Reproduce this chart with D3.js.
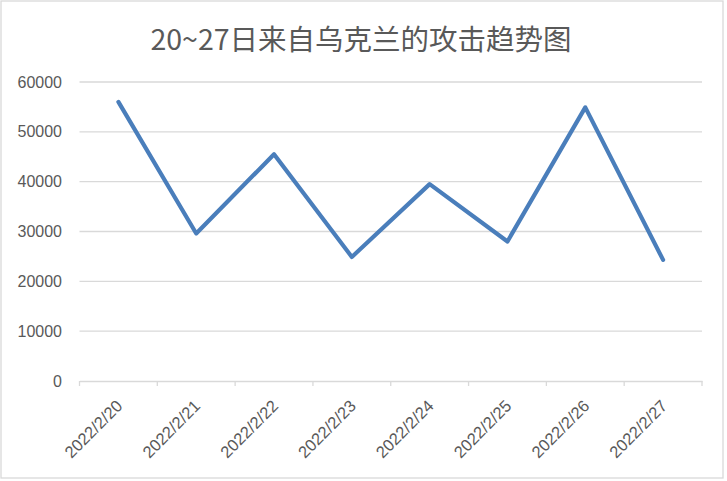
<!DOCTYPE html>
<html>
<head>
<meta charset="utf-8">
<script src="https://cdn.jsdelivr.net/npm/d3@7"></script>
<style>
  body { margin: 0; background: #fff; }
  svg text { font-family: "Liberation Sans", "Noto Sans CJK SC", sans-serif; fill: #595959; }
</style>
</head>
<body>
<svg id="chart"></svg>
<script>
// chart data
const dates = ["2022/2/20", "2022/2/21", "2022/2/22", "2022/2/23", "2022/2/24", "2022/2/25", "2022/2/26", "2022/2/27"];
const attacks = [56000, 29600, 45500, 24900, 39500, 28000, 54900, 24300];
const yTicks = [0, 10000, 20000, 30000, 40000, 50000, 60000];
const title = "20~27日来自乌克兰的攻击趋势图";

let W = 727, H = 481;

let svg = d3.select("#chart")
  .attr("width", W)
  .attr("height", H);

// outer chart border
svg.append("rect")
  .attr("x", 1).attr("y", 1)
  .attr("width", 722).attr("height", 477)
  .attr("fill", "none")
  .attr("stroke", "#d9d9d9")
  .attr("stroke-width", 1.3);

let x = d3.scaleBand()
  .domain(dates)
  .range([79.5, 702]);
let y = d3.scaleLinear()
  .domain([0, 60000])
  .range([381, 82]);

// title
svg.append("text")
  .attr("x", 361)
  .attr("y", 50)
  .attr("text-anchor", "middle")
  .style("font-family", "'Noto Sans CJK SC', sans-serif")
  .style("font-size", "28.5px")
  .text(title);

// gridlines
svg.append("g")
  .selectAll("line")
  .data(yTicks.filter(d => d > 0))
  .enter().append("line")
  .attr("x1", x.range()[0])
  .attr("x2", x.range()[1])
  .attr("y1", d => y(d))
  .attr("y2", d => y(d))
  .attr("stroke", "#d9d9d9")
  .attr("stroke-width", 1.3);

// y axis labels
svg.append("g")
  .selectAll("text")
  .data(yTicks)
  .enter().append("text")
  .attr("x", 62)
  .attr("y", d => y(d) + 5.5)
  .attr("text-anchor", "end")
  .style("font-size", "16px")
  .text(d => d);

// x axis
let xAxis = d3.axisBottom(x).tickSize(0).tickFormat("");
let gx = svg.append("g")
  .attr("transform", "translate(0," + y(0) + ")")
  .call(xAxis);
gx.select(".domain").attr("stroke", "#d9d9d9").attr("stroke-width", 1.3);

// tick marks at band boundaries
gx.selectAll(".sep")
  .data(dates.concat(["end"]))
  .enter().append("line")
  .attr("class", "sep")
  .attr("x1", (d, i) => x.range()[0] + i * x.step())
  .attr("x2", (d, i) => x.range()[0] + i * x.step())
  .attr("y1", 0)
  .attr("y2", 5)
  .attr("stroke", "#d9d9d9")
  .attr("stroke-width", 1.3);

// rotated date labels
svg.append("g")
  .selectAll("text")
  .data(dates)
  .enter().append("text")
  .attr("transform", d => "translate(" + (x(d) + x.bandwidth() / 2 + 1) + "," + (y(0) + 22) + ") rotate(-45)")
  .attr("text-anchor", "end")
  .attr("dy", "0.35em")
  .style("font-size", "16.5px")
  .text(d => d);

// line
let line = d3.line()
  .x((d, i) => x(dates[i]) + x.bandwidth() / 2)
  .y(d => y(d));

svg.append("path")
  .datum(attacks)
  .attr("d", line)
  .attr("fill", "none")
  .attr("stroke", "#4a7ebb")
  .attr("stroke-width", 4.2)
  .attr("stroke-linejoin", "round")
  .attr("stroke-linecap", "round");
</script>
</body>
</html>
